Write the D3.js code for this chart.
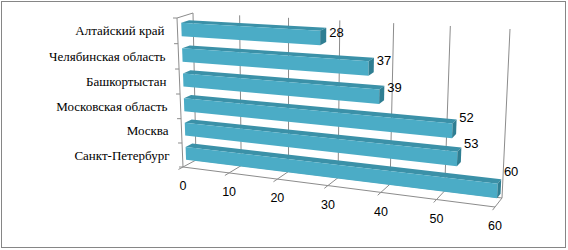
<!DOCTYPE html>
<html>
<head>
<meta charset="utf-8">
<script src="https://cdn.jsdelivr.net/npm/d3@7"></script>
<style>
  body { margin: 0; background: #fff; }
  .cat { font-family: "Liberation Serif", "DejaVu Serif", serif; font-size: 13px; fill: #000; }
  .tick-label { font-family: "Liberation Sans", Arial, sans-serif; font-size: 12.5px; fill: #000; }
  .value-label { font-family: "Liberation Sans", Arial, sans-serif; font-size: 13px; fill: #000; }
</style>
</head>
<body>
<svg id="chart"></svg>
<script>
// chart data
const categories = ["Алтайский край", "Челябинская область", "Башкортыстан",
                    "Московская область", "Москва", "Санкт-Петербург"];
const values = [28, 37, 39, 52, 53, 60];
const xTicks = [0, 10, 20, 30, 40, 50, 60];

const width = 568, height = 250;

// Corners of the 3D plot box as seen on screen (front plane and back wall)
// order: top-left, top-right, bottom-right, bottom-left
const frontQuad = [[177, 18], [503, 36], [495, 207], [183, 167]];
const backQuad = [[193, 13], [510, 29], [502, 198], [196, 160]];

// unit square -> quad perspective mapping
function homography(q) {
  const [[x0, y0], [x1, y1], [x2, y2], [x3, y3]] = q;
  const dx1 = x1 - x2, dx2 = x3 - x2, dx3 = x0 - x1 + x2 - x3;
  const dy1 = y1 - y2, dy2 = y3 - y2, dy3 = y0 - y1 + y2 - y3;
  const den = dx1 * dy2 - dx2 * dy1;
  const g = (dx3 * dy2 - dx2 * dy3) / den;
  const h = (dx1 * dy3 - dx3 * dy1) / den;
  const a = x1 - x0 + g * x1, b = x3 - x0 + h * x3, c = x0;
  const d = y1 - y0 + g * y1, e = y3 - y0 + h * y3, f = y0;
  return (u, v) => {
    const w = g * u + h * v + 1;
    return [(a * u + b * v + c) / w, (d * u + e * v + f) / w];
  };
}
const hFront = homography(frontQuad);
const hBack = homography(backQuad);

// u: along value axis, v: top->bottom, w: depth (0 front, 1 back)
function proj(u, v, w) {
  const p = hFront(u, v), q = hBack(u, v);
  return [p[0] + (q[0] - p[0]) * w, p[1] + (q[1] - p[1]) * w];
}

const x = d3.scaleLinear().domain([0, 60]).range([0, 1]);
const y = d3.scaleBand().domain(categories).range([0, 1])
    .paddingInner(0.47).paddingOuter(0.235);
const yAxis = d3.scaleBand().domain(categories).range([0, 1]);

const depth0 = 0.25, depth1 = 0.75;

const svg = d3.select('#chart')
    .attr('width', width)
    .attr('height', height);

svg.append('rect')
    .attr('x', 1.5).attr('y', 1.5)
    .attr('width', 564).attr('height', 246)
    .attr('fill', '#fff')
    .attr('stroke', '#868686');

const line = d3.line();
const poly = pts => line(pts) + 'Z';

const frame = svg.append('g')
    .attr('fill', 'none')
    .attr('stroke', '#8c8c8c')
    .attr('stroke-width', 1);

// back wall gridlines
xTicks.forEach(t => {
  frame.append('path').attr('d', line([proj(x(t), 0, 1), proj(x(t), 1, 1)]));
  // floor depth lines
  frame.append('path').attr('d', line([proj(x(t), 1, 0), proj(x(t), 1, 1)]));
  // tick marks
  frame.append('path').attr('d', line([proj(x(t), 1, 0), proj(x(t), 1, -0.35)]));
});

// floor edges
frame.append('path').attr('d', line([proj(0, 1, 0), proj(1, 1, 0)]));
frame.append('path').attr('d', line([proj(0, 1, 1), proj(1, 1, 1)]));
// left wall edges
frame.append('path').attr('d', line([proj(0, 0, 0), proj(0, 1, 0)]));
frame.append('path').attr('d', line([proj(0, 0, 0), proj(0, 0, 1)]));

// category ticks
d3.range(categories.length + 1).forEach(i => {
  const p = proj(0, i * yAxis.step(), 0);
  frame.append('path').attr('d', line([[p[0] - 4, p[1]], p]));
});

// bars
const bars = svg.append('g').selectAll('g')
    .data(categories.map((c, i) => ({cat: c, value: values[i]})))
  .join('g');

bars.each(function(d) {
  const g = d3.select(this);
  const u1 = x(d.value);
  const vt = y(d.cat), vb = y(d.cat) + y.bandwidth();
  // top face
  g.append('path')
      .attr('d', poly([proj(0, vt, depth0), proj(u1, vt, depth0), proj(u1, vt, depth1), proj(0, vt, depth1)]))
      .attr('fill', '#3b91a8');
  // front face
  g.append('path')
      .attr('d', poly([proj(0, vt, depth0), proj(u1, vt, depth0), proj(u1, vb, depth0), proj(0, vb, depth0)]))
      .attr('fill', '#4bacc6');
  // end cap
  g.append('path')
      .attr('d', poly([proj(u1, vt, depth0), proj(u1, vt, depth1), proj(u1, vb, depth1), proj(u1, vb, depth0)]))
      .attr('fill', '#2f7e92');
});

// value labels: Excel lifts them more toward the lower right
const labelPos = d => {
  const u = x(d.value), v = y(d.cat) + y.bandwidth() / 2;
  const p = proj(u, v, depth1);
  return [p[0] + 3, p[1] - 2 - 14 * u * v];
};
bars.append('text')
    .attr('class', 'value-label')
    .attr('x', d => labelPos(d)[0])
    .attr('y', d => labelPos(d)[1])
    .attr('dy', '0.35em')
    .text(d => d.value);

// category labels
svg.append('g').selectAll('text')
    .data(categories)
  .join('text')
    .attr('class', 'cat')
    .attr('text-anchor', 'end')
    .attr('x', d => proj(0, yAxis(d) + yAxis.bandwidth() / 2, 0)[0] - 13)
    .attr('y', d => proj(0, yAxis(d) + yAxis.bandwidth() / 2, 0)[1])
    .attr('dy', '0.35em')
    .text(d => d);

// value axis labels
svg.append('g').selectAll('text')
    .data(xTicks)
  .join('text')
    .attr('class', 'tick-label')
    .attr('text-anchor', 'middle')
    .attr('x', d => proj(x(d), 1, 0)[0])
    .attr('y', d => proj(x(d), 1, 0)[1] + 19)
    .attr('dy', '0.35em')
    .text(d => d);
</script>
</body>
</html>
